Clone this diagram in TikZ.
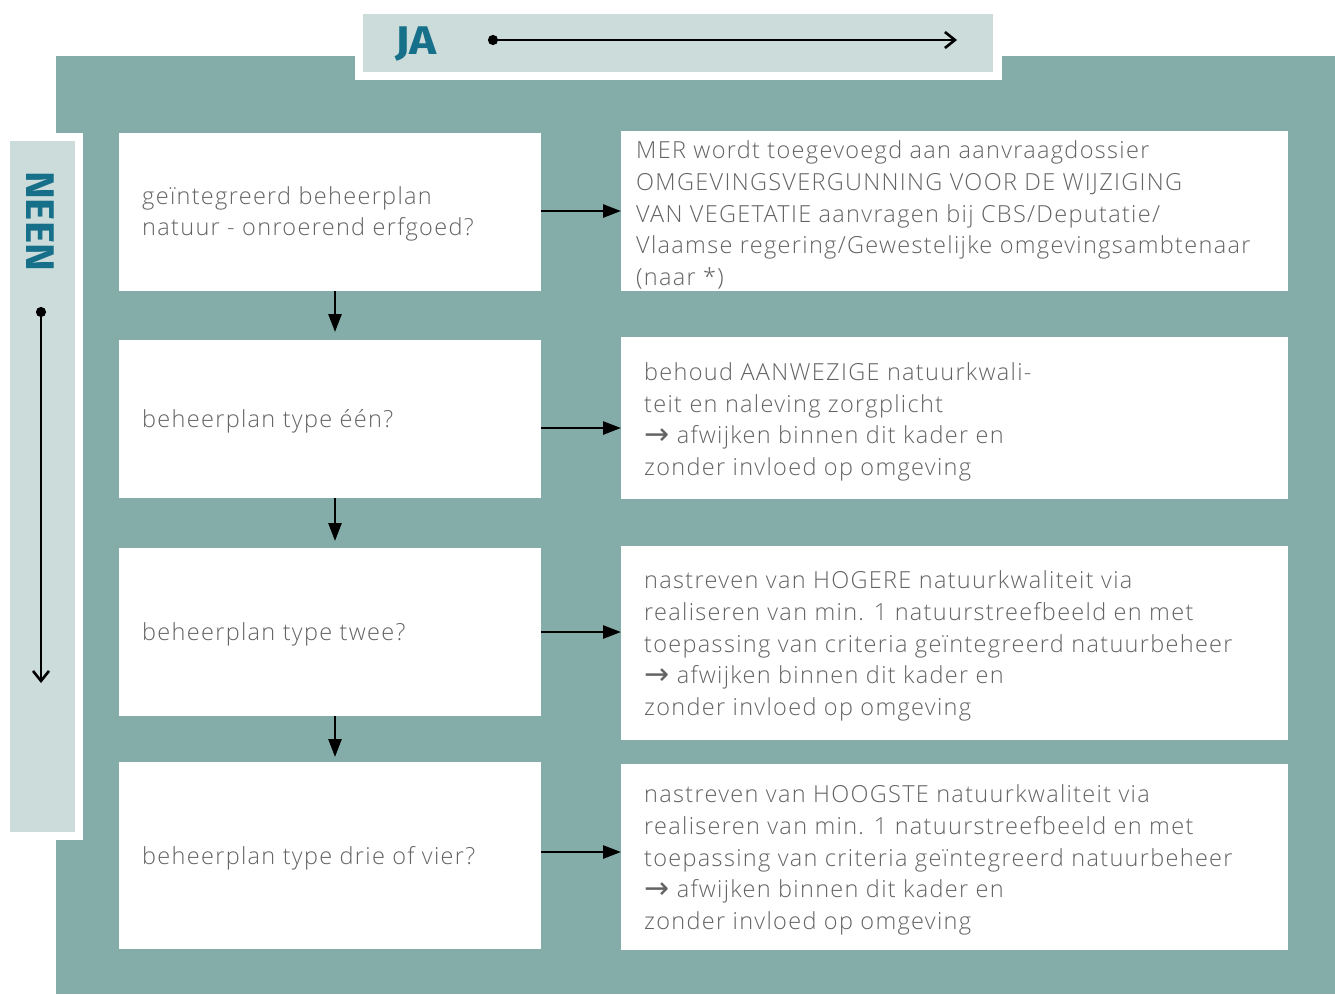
\documentclass[tikz,border=0pt]{standalone}
\usepackage{fontspec}
\setmainfont{Open Sans}[UprightFont={* Light}, LetterSpace=5.6]
\newfontfamily\headfont{Fira Sans}[UprightFont={* Bold}]
\newfontfamily\symfont{DejaVu Sans}
\usetikzlibrary{arrows.meta}
\definecolor{teal}{RGB}{132,173,169}
\definecolor{pale}{RGB}{204,220,219}
\definecolor{headc}{RGB}{23,112,138}
\definecolor{txt}{RGB}{100,100,100}
\tikzset{
  box/.style={fill=white, draw=none, inner sep=0pt, outer sep=0pt, anchor=north west},
  bodytext/.style={text=txt, align=left, anchor=west, inner sep=0pt, font=\fontsize{23.5}{31.6}\selectfont},
  headtext/.style={text=headc, inner sep=0pt, font=\headfont\fontsize{40}{40}\selectfont},
  shortarr/.style={line width=2.6pt, -{Triangle[length=18pt,width=13pt]}},
  longarr/.style={line width=2.6pt, {Circle[length=10pt]}-{Straight Barb[length=10pt,width=16pt,line width=2.6pt]}},
}
\newcommand{\rarr}{{\symfont\fontsize{30}{30}\selectfont\raisebox{-1pt}{→}}}
\begin{document}
\begin{tikzpicture}[x=1pt,y=-1pt]
\useasboundingbox (0,0) rectangle (1335,994);
% backgrounds
\fill[teal] (56,56) rectangle (1335,994);
\fill[white] (355,6) rectangle (1002,80);
\fill[pale] (363,14) rectangle (993,72);
\fill[white] (0,133) rectangle (83,840);
\fill[pale] (10,141) rectangle (75,832);
% header labels
\node[headtext] (ja) at (416,44) {\scalebox{1.15}[1]{JA}};
\coordinate (jaS) at (488,40);
\coordinate (jaE) at (957,40);
\draw[longarr] (jaS) -- (jaE);
\node[headtext, rotate=-90] (neen) at (40,221) {\scalebox{1.05}[1]{NEEN}};
\coordinate (neS) at (41,307);
\coordinate (neE) at (41,683);
\draw[longarr] (neS) -- (neE);
% left boxes
\node[box, minimum width=422pt, minimum height=158pt] (L1) at (119,133) {};
\node[box, minimum width=422pt, minimum height=158pt] (L2) at (119,340) {};
\node[box, minimum width=422pt, minimum height=168pt] (L3) at (119,548) {};
\node[box, minimum width=422pt, minimum height=187pt] (L4) at (119,762) {};
% right boxes
\node[box, minimum width=667pt, minimum height=160pt] (R1) at (621,131) {};
\node[box, minimum width=667pt, minimum height=162pt] (R2) at (621,337) {};
\node[box, minimum width=667pt, minimum height=194pt] (R3) at (621,546) {};
\node[box, minimum width=667pt, minimum height=186pt] (R4) at (621,764) {};
% texts
\node[bodytext] (t1) at (142,214) {geïntegreerd beheerplan\\natuur - onroerend erfgoed?};
\node[bodytext] (t2) at (142,421) {beheerplan type één?};
\node[bodytext] (t3) at (142,634) {beheerplan type twee?};
\node[bodytext] (t4) at (142,858) {beheerplan type drie of vier?};
\node[bodytext] (u1) at (636,215) {MER wordt toegevoegd aan aanvraagdossier\\OMGEVINGSVERGUNNING VOOR DE WIJZIGING\\VAN VEGETATIE aanvragen bij CBS/Deputatie/\\Vlaamse regering/Gewestelijke omgevingsambtenaar\\(naar *)};
\node[bodytext] (u2) at (644,422) {behoud AANWEZIGE natuurkwali-\\teit en naleving zorgplicht\\\rarr\ afwijken binnen dit kader en\\zonder invloed op omgeving};
\node[bodytext] (u3) at (644,646) {nastreven van HOGERE natuurkwaliteit via\\realiseren van min. 1 natuurstreefbeeld en met\\toepassing van criteria geïntegreerd natuurbeheer\\\rarr\ afwijken binnen dit kader en\\zonder invloed op omgeving};
\node[bodytext] (u4) at (644,860) {nastreven van HOOGSTE natuurkwaliteit via\\realiseren van min. 1 natuurstreefbeeld en met\\toepassing van criteria geïntegreerd natuurbeheer\\\rarr\ afwijken binnen dit kader en\\zonder invloed op omgeving};
% horizontal arrows
\draw[shortarr] ([yshift=1pt]L1.east) -- ([yshift=1pt]L1.east -| R1.west);
\draw[shortarr] ([yshift=-9pt]L2.east) -- ([yshift=-9pt]L2.east -| R2.west);
\draw[shortarr] (L3.east) -- (L3.east -| R3.west);
\draw[shortarr] ([yshift=3.5pt]L4.east) -- ([yshift=3.5pt]L4.east -| R4.west);
% vertical arrows
\draw[shortarr] ([xshift=5pt]L1.south) -- ([xshift=5pt,yshift=8pt]L2.north);
\draw[shortarr] ([xshift=5pt]L2.south) -- ([xshift=5pt,yshift=7pt]L3.north);
\draw[shortarr] ([xshift=5pt]L3.south) -- ([xshift=5pt,yshift=5pt]L4.north);
\end{tikzpicture}
\end{document}
